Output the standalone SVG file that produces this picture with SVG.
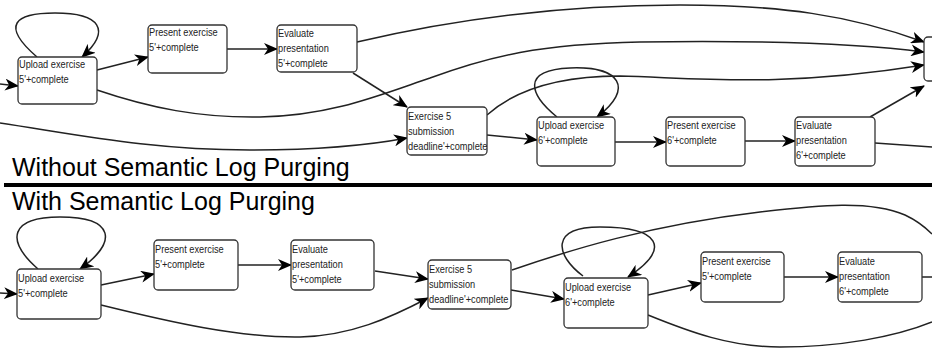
<svg xmlns="http://www.w3.org/2000/svg" width="932" height="353" viewBox="0 0 932 353">
<style>
.box{fill:#fff;stroke:#333;stroke-width:1.3}
.t{font-family:"Liberation Sans",Arial,sans-serif;font-size:11px;fill:#222}
.h{font-family:"Liberation Sans",Arial,sans-serif;font-size:25px;fill:#000}
.e{fill:none;stroke:#222;stroke-width:1.5}
.a{marker-end:url(#arr)}
</style>
<defs>
<marker id="arr" viewBox="0 0 14 12" refX="13" refY="6" markerWidth="14" markerHeight="12" markerUnits="userSpaceOnUse" orient="auto"><path d="M0,0 L14,6 L0,12 L4,6 Z" fill="#000"/></marker>
<clipPath id="clipX5"><rect x="407" y="107" width="80" height="48"/></clipPath>
</defs>
<rect x="4" y="183" width="928" height="4" fill="#000"/>
<text class="h" x="12" y="176">Without Semantic Log Purging</text>
<text class="h" x="12" y="210">With Semantic Log Purging</text>
<g id="connectors">
<path class="e a" d="M0,84 L18,86"/>
<path class="e a" d="M37,57 C0,25 15,13 55,13 C100,13 112,30 82,57"/>
<path class="e a" d="M97,70 L148,57"/>
<path class="e a" d="M227,49 L277,49"/>
<path class="e a" d="M353,73 L407,107"/>
<path class="e a" d="M357,42 C450,20 560,5 680,5 C780,5 850,15 924,42"/>
<path class="e a" d="M97,90 C150,108 200,118 260,117 C330,116 380,95 430,78 C490,56 540,44 640,42 C780,40 870,45 924,52"/>
<path class="e a" d="M487,115 C515,90 560,76 620,76 C700,78 780,88 924,65"/>
<path class="e" d="M875,143 L932,147"/>
<path class="e a" d="M870,117 L924,86"/>
<path class="e a" d="M0,123 C80,135 150,150 250,150 C320,150 370,145 407,138"/>
<path class="e a" d="M487,135 L537,140"/>
<path class="e a" d="M557,117 C530,95 520,70 570,68 C620,66 635,88 597,117"/>
<path class="e a" d="M615,142 L666,142"/>
<path class="e a" d="M745,141 L795,141"/>
<path class="e a" d="M0,293 L17,294"/>
<path class="e a" d="M38,269 C5,240 10,217 60,217 C115,217 118,242 80,269"/>
<path class="e a" d="M101,285 L154,274"/>
<path class="e a" d="M238,265 L291,265"/>
<path class="e a" d="M375,271 L428,279"/>
<path class="e a" d="M101,305 C170,322 240,338 300,337 C350,336 390,318 428,298"/>
<path class="e a" d="M511,290 L564,299"/>
<path class="e" d="M512,270 C570,250 650,225 760,212 C820,205 870,200 905,215 C920,222 928,230 932,234"/>
<path class="e a" d="M583,276 C555,255 550,227 600,227 C660,227 672,248 628,277"/>
<path class="e a" d="M648,295 L701,283"/>
<path class="e" d="M648,315 C690,332 730,347 780,347 C840,347 895,337 932,322"/>
<path class="e a" d="M784,277 L838,277"/>
<path class="e" d="M922,277 L932,277"/>
</g>
<g id="top-upload5"><rect class="box" x="18" y="57" width="79" height="47" rx="4"/>
<text class="t" transform="translate(19,68) scale(0.84,1)"><tspan x="0" y="0">Upload exercise</tspan><tspan x="0" y="15">5'+complete</tspan></text></g>
<g id="top-present5"><rect class="box" x="148" y="25" width="79" height="48" rx="4"/>
<text class="t" transform="translate(149,36) scale(0.84,1)"><tspan x="0" y="0">Present exercise</tspan><tspan x="0" y="15">5'+complete</tspan></text></g>
<g id="top-evaluate5"><rect class="box" x="277" y="25" width="80" height="47" rx="4"/>
<text class="t" transform="translate(278,37) scale(0.84,1)"><tspan x="0" y="0">Evaluate</tspan><tspan x="0" y="15">presentation</tspan><tspan x="0" y="30">5'+complete</tspan></text></g>
<g id="top-exercise5"><rect class="box" x="407" y="107" width="80" height="48" rx="4"/>
<g clip-path="url(#clipX5)"><text class="t" transform="translate(408,120) scale(0.84,1)"><tspan x="0" y="0">Exercise 5</tspan><tspan x="0" y="15">submission</tspan><tspan x="0" y="30">deadline'+complete</tspan></text></g></g>
<g id="top-upload6"><rect class="box" x="537" y="117" width="78" height="49" rx="4"/>
<text class="t" transform="translate(538,129) scale(0.84,1)"><tspan x="0" y="0">Upload exercise</tspan><tspan x="0" y="15">6'+complete</tspan></text></g>
<g id="top-present6"><rect class="box" x="666" y="117" width="79" height="49" rx="4"/>
<text class="t" transform="translate(667,129) scale(0.84,1)"><tspan x="0" y="0">Present exercise</tspan><tspan x="0" y="15">6'+complete</tspan></text></g>
<g id="top-evaluate6"><rect class="box" x="795" y="117" width="80" height="49" rx="4"/>
<text class="t" transform="translate(796,129) scale(0.84,1)"><tspan x="0" y="0">Evaluate</tspan><tspan x="0" y="15">presentation</tspan><tspan x="0" y="30">6'+complete</tspan></text></g>
<g id="top-next"><rect class="box" x="924" y="37" width="30" height="44" rx="4"/></g>
<g id="bot-upload5"><rect class="box" x="17" y="269" width="84" height="50" rx="4"/>
<text class="t" transform="translate(18,282) scale(0.84,1)"><tspan x="0" y="0">Upload exercise</tspan><tspan x="0" y="15">5'+complete</tspan></text></g>
<g id="bot-present5"><rect class="box" x="154" y="240" width="84" height="50" rx="4"/>
<text class="t" transform="translate(155,253) scale(0.84,1)"><tspan x="0" y="0">Present exercise</tspan><tspan x="0" y="15">5'+complete</tspan></text></g>
<g id="bot-evaluate5"><rect class="box" x="291" y="240" width="83" height="50" rx="4"/>
<text class="t" transform="translate(292,253) scale(0.84,1)"><tspan x="0" y="0">Evaluate</tspan><tspan x="0" y="15">presentation</tspan><tspan x="0" y="30">5'+complete</tspan></text></g>
<g id="bot-exercise5"><rect class="box" x="428" y="260" width="83" height="49" rx="4"/>
<text class="t" transform="translate(429,273) scale(0.84,1)"><tspan x="0" y="0">Exercise 5</tspan><tspan x="0" y="15">submission</tspan><tspan x="0" y="30">deadline'+complete</tspan></text></g>
<g id="bot-upload6"><rect class="box" x="564" y="278" width="84" height="50" rx="4"/>
<text class="t" transform="translate(565,291) scale(0.84,1)"><tspan x="0" y="0">Upload exercise</tspan><tspan x="0" y="15">6'+complete</tspan></text></g>
<g id="bot-present6"><rect class="box" x="701" y="252" width="83" height="50" rx="4"/>
<text class="t" transform="translate(702,265) scale(0.84,1)"><tspan x="0" y="0">Present exercise</tspan><tspan x="0" y="15">5'+complete</tspan></text></g>
<g id="bot-evaluate6"><rect class="box" x="838" y="252" width="84" height="50" rx="4"/>
<text class="t" transform="translate(839,265) scale(0.84,1)"><tspan x="0" y="0">Evaluate</tspan><tspan x="0" y="15">presentation</tspan><tspan x="0" y="30">6'+complete</tspan></text></g>
</svg>
